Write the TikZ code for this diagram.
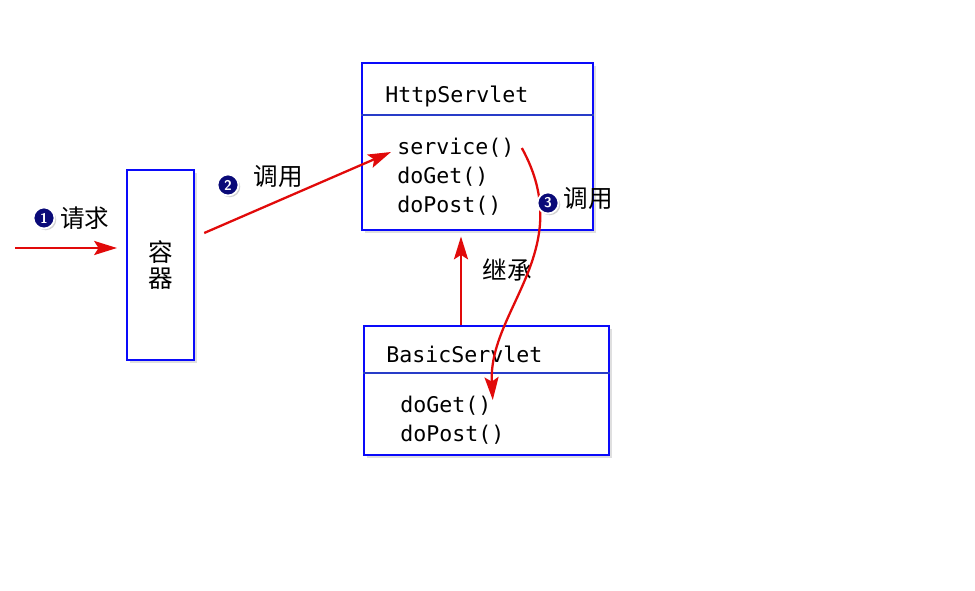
\documentclass[tikz,border=0pt]{standalone}
\usepackage{fontspec}
\setmonofont{DejaVu Sans Mono}
\newfontfamily\cjk{Noto Sans CJK SC}
\usepackage{tikz}
\usetikzlibrary{arrows.meta, calc, shadows}
\definecolor{BoxBlue}{RGB}{10,10,250}
\definecolor{LineBlue}{RGB}{40,60,200}
\definecolor{CallRed}{RGB}{225,10,10}
\definecolor{NumNavy}{RGB}{10,10,120}

\begin{document}
\begin{tikzpicture}[x=0.02cm, y=-0.02cm,
      box/.style={rectangle, draw=BoxBlue, line width=1.4pt, fill=white,
                  drop shadow={shadow xshift=1.5pt, shadow yshift=-1.5pt,
                               opacity=0.25}},
      divider/.style={LineBlue, line width=0.8pt},
      meth/.style={font=\ttfamily\fontsize{12.3}{14}\selectfont, inner sep=0pt},
      zh/.style={font=\cjk\fontsize{14}{16.5}\selectfont, inner sep=0pt},
      num/.style={circle, fill=NumNavy, draw=white, line width=1pt,
                  text=white, minimum size=0.42cm, inner sep=0pt,
                  font=\sffamily\bfseries\footnotesize,
                  drop shadow={shadow xshift=1pt, shadow yshift=-1pt,
                               opacity=0.35}},
      callarr/.style={-{Stealth[length=13pt, width=8pt, inset=2.5pt]},
                      CallRed, line width=1.3pt}
    ]
    \useasboundingbox (0,0) rectangle (975,591);

    % Container
    \node[box, minimum width=1.34cm, minimum height=3.8cm, zh, align=center]
          (rq) at (160.5,265) {容\\[-0.05cm]器};

    % HttpServlet
    \node[box, minimum width=4.62cm, minimum height=3.34cm] (http) at (477.5,146.5) {};
    \draw[divider] (http.west |- 0,115) -- (http.east |- 0,115);
    \node[meth, anchor=west] (httpname) at (385,96) {HttpServlet};
    \foreach \m/\y [count=\i] in {service()/148, doGet()/177, doPost()/206} {
      \node[meth, anchor=west] (hm\i) at (397,\y) {\m};
    }

    % BasicServlet
    \node[box, minimum width=4.9cm, minimum height=2.58cm] (basic) at (486.5,390.5) {};
    \draw[divider] (basic.west |- 0,373) -- (basic.east |- 0,373);
    \node[meth, anchor=west] (basicname) at (386,354) {BasicServlet};
    \foreach \m/\y [count=\i] in {doGet()/406, doPost()/435} {
      \node[meth, anchor=west] (bm\i) at (400,\y) {\m};
    }

    % 1: request
    \coordinate (client) at (15,248);
    \draw[callarr, shorten >=5pt] (client) -- (rq.west |- client);
    \node[num] (n1) at (44,218) {1};
    \node[zh] (t1) at (85,218) {请求};

    % 2: call service()
    \draw[callarr] ([shift={(9,-32)}]rq.east) -- ([shift={(-6,4)}]hm1.west);
    \node[num] (n2) at (228,185) {2};
    \node[zh] (t2) at (278,176) {调用};

    % inheritance
    \draw[callarr, shorten >=3pt] (basic.north -| 461,0) -- (http.south -| 461,0);
    \node[zh] (t4) at (507,270) {继承};

    % 3: service() calls doGet()
    \draw[callarr] ([xshift=4pt]hm1.east) .. controls (578,250) and (488,310)
          .. ([shift={(1,-6)}]bm1.east);
    \node[num] (n3) at (548,203) {3};
    \node[zh] (t3) at (588,198) {调用};
  \end{tikzpicture}
\end{document}
